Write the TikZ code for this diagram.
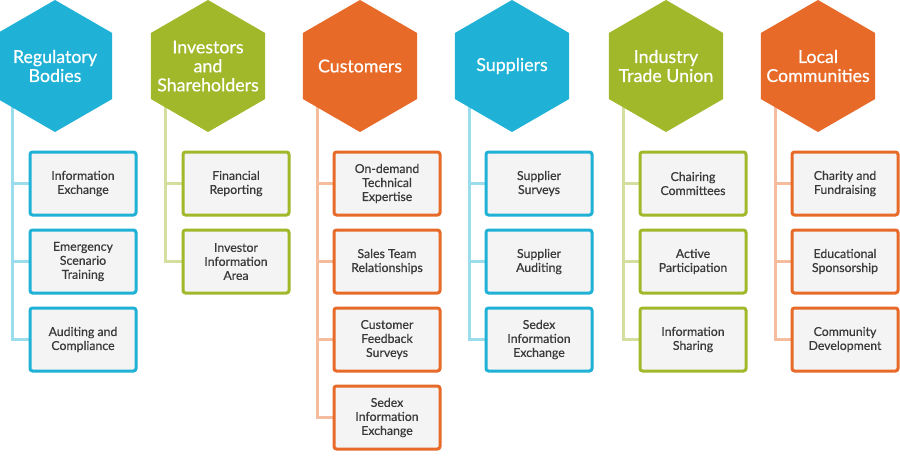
\documentclass[tikz,border=0pt]{standalone}
\usepackage{fontspec}
\setmainfont{Lato}
\newfontfamily\medfont{Lato}[FakeBold=0.5]
\usetikzlibrary{shapes.geometric, backgrounds}
\definecolor{sblue}{RGB}{32, 178, 214}
\definecolor{sgreen}{RGB}{160, 184, 42}
\definecolor{sorange}{RGB}{232, 106, 40}
\definecolor{boxgray}{RGB}{244, 244, 244}
\definecolor{inkgray}{RGB}{58, 58, 58}

\begin{document}
\begin{tikzpicture}[x=1pt, y=-1pt,
    hexa/.style={regular polygon, regular polygon sides=6, shape border rotate=30,
                 minimum size=132pt, inner sep=0pt},
    hexlabel/.style={text=white, align=center, font=\medfont\fontsize{17.8}{19}\selectfont},
    item/.style={draw, line width=3pt, rounded corners=2.5pt, fill=boxgray, text=inkgray,
                 minimum width=106pt, minimum height=63pt, align=center, font=\medfont\fontsize{12.3}{14}\selectfont},
    link/.style={line width=3pt}]
  \useasboundingbox (0,0) rectangle (900,460);

  % Regulatory Bodies
  \node[hexa, fill=sblue, label={[hexlabel]center:Regulatory\\Bodies}] (reg) at (55,66) {};
  \foreach \t [count=\i] in {{Information\\Exchange},{Emergency\\Scenario\\Training},{Auditing and\\Compliance}}
    \node[item, draw=sblue] (reg\i) at (83,{105.5+78*\i}) {\t};

  % Investors and Shareholders
  \node[hexa, fill=sgreen, label={[hexlabel]center:Investors\\and\\Shareholders}] (inv) at (208,66) {};
  \foreach \t [count=\i] in {{Financial\\Reporting},{Investor\\Information\\Area}}
    \node[item, draw=sgreen] (inv\i) at (236,{105.5+78*\i}) {\t};

  % Customers
  \node[hexa, fill=sorange, label={[hexlabel]center:Customers}] (cus) at (360,66) {};
  \foreach \t [count=\i] in {{On-demand\\Technical\\Expertise},{Sales Team\\Relationships},{Customer\\Feedback\\Surveys},{Sedex\\Information\\Exchange}}
    \node[item, draw=sorange] (cus\i) at (387,{105.5+78*\i}) {\t};

  % Suppliers
  \node[hexa, fill=sblue, label={[hexlabel]center:Suppliers}] (sup) at (512,66) {};
  \foreach \t [count=\i] in {{Supplier\\Surveys},{Supplier\\Auditing},{Sedex\\Information\\Exchange}}
    \node[item, draw=sblue] (sup\i) at (539,{105.5+78*\i}) {\t};

  % Industry Trade Union
  \node[hexa, fill=sgreen, label={[hexlabel]center:Industry\\Trade Union}] (ind) at (666,66) {};
  \foreach \t [count=\i] in {{Chairing\\Committees},{Active\\Participation},{Information\\Sharing}}
    \node[item, draw=sgreen] (ind\i) at (693,{105.5+78*\i}) {\t};

  % Local Communities
  \node[hexa, fill=sorange, label={[hexlabel]center:Local\\Communities}] (loc) at (818,66) {};
  \foreach \t [count=\i] in {{Charity and\\Fundraising},{Educational\\Sponsorship},{Community\\Development}}
    \node[item, draw=sorange] (loc\i) at (845,{105.5+78*\i}) {\t};

  % trunks and stubs
  \begin{scope}[on background layer]
    \fill[white] (0,0) rectangle (900,460);
    \foreach \h/\n/\c in {reg/3/sblue, inv/2/sgreen, cus/4/sorange, sup/3/sblue, ind/3/sgreen, loc/3/sorange}
      \foreach \i in {1,...,\n}
        \draw[link, \c!45] ([xshift=-43pt]\h.center) |- (\h\i.west);
  \end{scope}
\end{tikzpicture}
\end{document}
